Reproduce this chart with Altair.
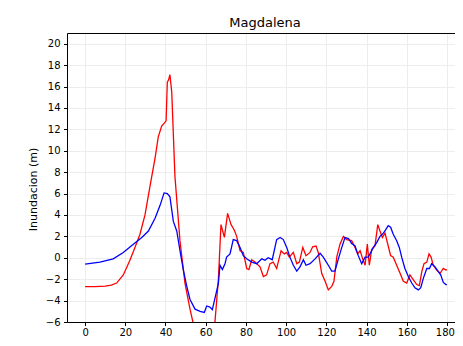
import altair as alt
import pandas as pd

red_x = [0, 5, 10, 13, 15.7, 19, 22.3, 24.8, 27.3, 29.8,
         32.3, 34.8, 36.4, 38.1, 39.5, 40.3, 40.9, 41.5, 42.2, 43.1,
         44.7, 47.2, 49.7, 52.2, 54, 56, 60, 63, 64.6, 66.3,
         67.6, 69.3, 70.9, 72.6, 74.2, 75.4, 77.1, 78.7, 80.4, 81.5,
         82.9, 84.5, 87, 88.7, 90.3, 92, 93.6, 95.3, 97.5, 99.1,
         100.3, 101.6, 103.6, 105.3, 106.6, 108.3, 109.9, 111.9, 113.2, 114.9,
         116, 117.7, 119.4, 121, 122.7, 123.8, 125.2, 126.8, 128.5, 130.1,
         132.6, 134.3, 135.6, 136.8, 138.1, 139.3, 140.4, 141.4, 142.6, 144.2,
         145.6, 146.7, 147.9, 149.2, 150.8, 152, 153.3, 155, 156.7, 158.3,
         160, 161.6, 163.3, 165, 166.3, 167.5, 168.6, 170, 171.1, 172.1,
         173.2, 174.9, 176.6, 178.2, 179.5, 180]
red_y = [-2.7, -2.7, -2.65, -2.55, -2.36, -1.6, -0.24, 0.97, 2.2, 4.0,
         6.7, 9.3, 11.3, 12.3, 12.6, 12.8, 16.4, 16.6, 17.1, 15.5,
         7.6, 1.6, -2.4, -4.8, -6.3, -7.5, -8, -7.5, -6, -2.06,
         3.1, 1.9, 4.15, 3.1, 2.6, 2.0, 0.66, 0.5, -1.0, -1.1,
         -0.18, -0.4, -0.85, -1.75, -1.6, -0.55, -0.4, -1.0, 0.66, 0.36,
         0.5, 0.06, 0.5, -0.55, -0.4, 0.97, 0.2, 0.5, 1.03, 1.1,
         0.5, -1.45, -2.2, -3.0, -2.67, -2.2, 0.06, 1.27, 2.0, 1.7,
         1.6, 0.97, 0.36, 0.66, -0.1, -0.7, 1.27, -0.7, 0.8, 1.1,
         3.1, 2.5, 1.9, 2.3, 1.1, 0.2, 0.06, -0.7, -1.45, -2.2,
         -2.36, -1.6, -2.06, -2.5, -2.6, -1.3, -0.55, -0.4, 0.36, 0.06,
         -0.7, -1.15, -1.45, -1.0, -1.15, -1.1]

blue_x = [0, 7.4, 14, 19, 24, 28.2, 31.5, 34.8, 37.3, 39.3,
          40.9, 42.2, 43.9, 45.6, 47.2, 48.9, 50.5, 52.2, 54.7, 57.2,
          59.3, 60.5, 62.1, 63.3, 64.6, 66.3, 67.1, 68.3, 69.6, 70.4,
          72.1, 73.7, 75.4, 77.1, 78.7, 80.4, 82.9, 85.4, 87.9, 89.5,
          91.1, 93.1, 95.3, 97, 98.6, 100.3, 101.9, 103.6, 105.3, 106.9,
          108.6, 109.9, 111.9, 114.4, 116.9, 118.5, 121, 122.7, 124.3, 126,
          127.7, 129.3, 131, 132.6, 134.3, 135.9, 137.6, 139.3, 140.9, 143.4,
          145, 146.7, 148.4, 149.5, 150.8, 152, 153.3, 155, 156.3, 157.5,
          159.1, 160.8, 162.5, 164.1, 165.8, 167, 168.3, 170, 171.3, 172.4,
          174.1, 175.7, 176.9, 178.2, 179.5, 180]
blue_y = [-0.6, -0.4, -0.1, 0.5, 1.27, 1.9, 2.5, 3.7, 4.9, 6.06,
          6.0, 5.7, 3.4, 2.5, 0.66, -1.15, -2.6, -3.9, -4.8, -5.0,
          -5.1, -4.5, -4.6, -4.85, -3.8, -2.4, -0.7, -1.1, -0.55, 0.06,
          0.36, 1.7, 1.6, 0.97, 0.2, -0.1, -0.4, -0.55, -0.1, -0.24,
          0, -0.18, 1.7, 1.9, 1.7, 0.97, 0.06, -0.7, -1.24, -0.85,
          -0.18, -0.7, -0.55, -0.1, 0.42, 0.06, -0.7, -1.24, -1.24, -0.1,
          0.97, 1.9, 1.8, 1.34, 1.1, 0.2, -0.55, 0.06, 0.06, 0.97,
          1.4, 2.0, 2.3, 2.6, 3.0, 2.85, 2.2, 1.6, 0.97, 0.06,
          -1.0, -1.75, -2.36, -2.8, -3.0, -2.8, -1.9, -1.0, -1.0, -0.55,
          -0.85, -1.3, -1.6, -2.3, -2.5, -2.5]

x_ticks = list(range(0, 181, 20))
y_ticks = list(range(-6, 21, 2))

red_df = pd.DataFrame({"x": red_x, "y": red_y})
blue_df = pd.DataFrame({"x": blue_x, "y": blue_y})

FONT = "DejaVu Sans"
xscale = alt.Scale(domain=[-9, 188], nice=False, zero=False)
yscale = alt.Scale(domain=[-6, 21], nice=False, zero=False)

x_bottom = alt.X("x:Q", scale=xscale, axis=alt.Axis(
    orient="bottom", values=x_ticks, title=None, grid=True, gridColor="#e8e8e8",
    gridWidth=0.8, domainColor="#000000", domainWidth=1, tickColor="#000000",
    tickSize=3.5, labelColor="#000000", labelFont=FONT, labelFontSize=10,
    labelPadding=1.5, labelFlush=False,
    labelOffset={"condition": {"test": "datum.value == 180", "value": -2}, "value": 0}))
y_left = alt.Y("y:Q", scale=yscale, axis=alt.Axis(
    values=y_ticks, title="Inundacion (m)", grid=True, gridColor="#e8e8e8",
    gridWidth=0.8, domainColor="#000000", domainWidth=1, tickColor="#000000",
    tickSize=3.5, labelColor="#000000", labelFont=FONT, labelFontSize=10,
    labelPadding=3.5, labelFlush=False, titleFont=FONT, titleFontSize=11,
    titleFontWeight="normal", titleColor="#000000", titleX=-34, titleY=156,
    titleAngle=270, titleAlign="center", titleBaseline="middle"))

red = alt.Chart(red_df).mark_line(color="#ff0000", strokeWidth=1.3, clip=True).encode(
    x=x_bottom, y=y_left)

x_top = alt.X("x:Q", scale=xscale, axis=alt.Axis(
    orient="top", values=x_ticks, title=None, labels=False, ticks=False, grid=False,
    domainColor="#000000", domainWidth=1))
blue = alt.Chart(blue_df).mark_line(color="#0000ff", strokeWidth=1.3, clip=True).encode(
    x=x_top, y=y_left)

chart = alt.layer(red, blue).resolve_axis(x="independent").properties(
    width=396, height=289,
    autosize=alt.AutoSizeParams(type="none"),
    padding={"left": 59, "top": 25, "right": -8, "bottom": 16},
    title=alt.TitleParams("Magdalena", font=FONT, fontSize=13, fontWeight="normal",
                          color="#000000", offset=3, anchor="middle"),
).configure_view(stroke=None).configure(background="white")

chart.save("out.html", embed_options={"renderer": "svg", "actions": False})
